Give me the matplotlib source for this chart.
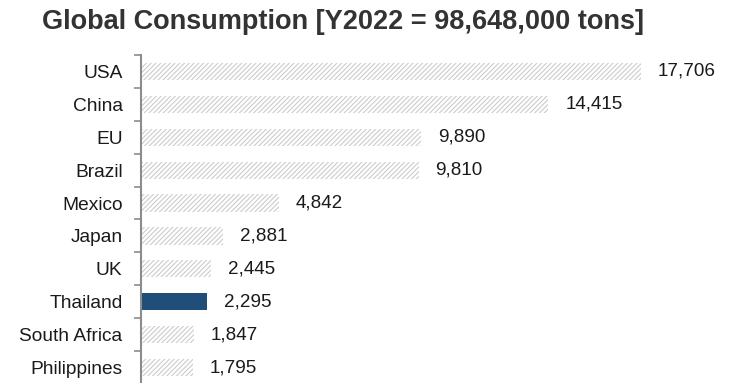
import matplotlib
matplotlib.use("Agg")
import matplotlib.pyplot as plt
import numpy as np

plt.rcParams['font.family'] = ['Liberation Sans', 'DejaVu Sans']
plt.rcParams['hatch.linewidth'] = 0.8

countries = ["USA", "China", "EU", "Brazil", "Mexico", "Japan", "UK", "Thailand", "South Africa", "Philippines"]
values = [17706, 14415, 9890, 9810, 4842, 2881, 2445, 2295, 1847, 1795]
highlight = "Thailand"
title = "Global Consumption [Y2022 = 98,648,000 tons]"

W, H = 731, 383
fig = plt.figure(figsize=(W/100, H/100), dpi=100)
ax_left, ax_right, ax_top, ax_bottom = 141, 731, 55, 384
ax = fig.add_axes([ax_left/W, 1 - ax_bottom/H, (ax_right-ax_left)/W, (ax_bottom-ax_top)/H])

n = len(countries)
y = np.arange(n)
for yi, c, v in zip(y, countries, values):
    if c == highlight:
        ax.barh(yi, v, height=0.52, color="#1f4e79", linewidth=0, left=40)
    else:
        ax.barh(yi, v, height=0.52, color="white", edgecolor="#cccccc", hatch="///////", linewidth=0, left=40)
    ax.text(40 + v + 600, yi, f"{v:,}", va="center", ha="left", fontsize=13.6, color="#1a1a1a")

xmax = 17706 * (ax_right - ax_left) / (640 - ax_left)
ax.set_xlim(0, xmax)
ax.set_ylim(n - 0.5, -0.5)
ax.set_yticks(y)
ax.set_yticklabels(countries, fontsize=13.8, color="#1a1a1a")
ax.tick_params(axis='y', which='major', length=0, pad=13.3)
ax.set_yticks(np.arange(-0.5, n, 1), minor=True)
ax.tick_params(axis='y', which='minor', length=5, width=1.2, color="#8c8c8c")
ax.set_xticks([])
for s in ["top", "right", "bottom"]:
    ax.spines[s].set_visible(False)
ax.spines["left"].set_color("#8c8c8c")
ax.spines["left"].set_linewidth(1.5)

fig.text(343/W, 1 - 22/H, title, ha="center", va="center", fontsize=19.5, fontweight="bold", color="#333333")

fig.savefig("out.png", dpi=100)
